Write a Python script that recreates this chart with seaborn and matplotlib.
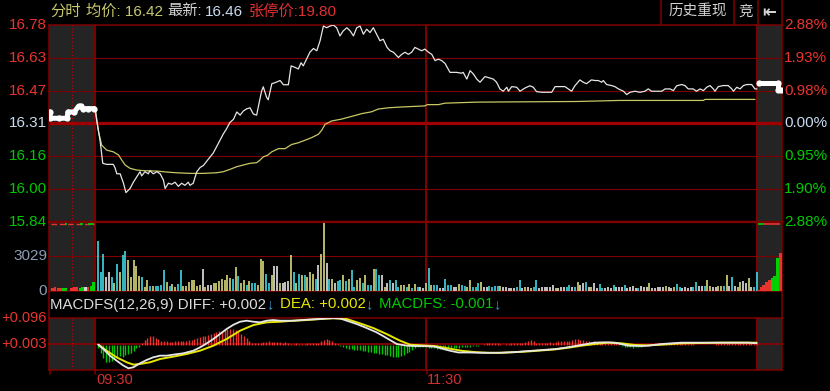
import matplotlib
matplotlib.use("Agg")
import matplotlib.pyplot as plt
import numpy as np
import pandas as pd
import seaborn as sns

# ---------------- data ----------------
price_labels = ["15.84", "16.00", "16.16", "16.31", "16.47", "16.63", "16.78"]
pct_labels = ["2.88%", "1.90%", "0.95%", "0.00%", "0.98%", "1.93%", "2.88%"]
vol_labels = ["0", "3029"]
vol_label_vals = [0, 3029]
macd_labels = ["+0.003", "+0.096"]
macd_label_vals = [0.003, 0.096]
time_labels = ["09:30", "11:30"]
time_label_min = [0, 120]

# intraday price (minute index from 09:30, price)
price_t = [0, 0.6, 1.8, 2.8, 4.2, 6.6, 7.2, 7.9, 9.1, 10.3, 11.2, 12.7, 13.9, 15.1, 16.3, 16.9,
           18.1, 19.3, 19.9, 21.1, 22.4, 23.6, 24.8, 25.4, 26.6, 27.8, 29.0, 30.2, 31.4, 32.6,
           33.8, 34.4, 35.6, 36.9, 38.1, 39.3, 40.5, 41.7, 42.9, 44.1, 45.3, 46.5, 47.7, 48.9,
           50.2, 51.4, 52.6, 53.8, 55.0, 56.2, 57.4, 58.6, 59.2, 60.4, 61.0, 62.2, 62.8, 64.1,
           65.3, 67.1, 68.3, 70.1, 71.1, 72.5, 73.7, 74.7, 75.5, 76.7, 77.9, 79.2, 80.4, 81.6,
           82.8, 84.0, 85.2, 86.4, 87.6, 88.8, 90.0, 91.3, 92.5, 93.7, 94.9, 96.1, 97.3, 98.5,
           99.7, 100.9, 102.1, 103.3, 104.5, 105.9, 107.0, 108.2, 109.4, 110.0, 111.2, 112.4,
           113.6, 114.8, 116.0, 117.2, 118.4, 119.6, 120.9, 122.1, 123.3, 124.5, 125.7, 126.9,
           128.7, 131.1, 132.9, 133.5, 134.8, 136.0, 137.2, 138.4, 139.6, 141.4, 143.2, 144.4,
           145.6, 146.8, 148.0, 149.3, 149.9, 151.1, 152.9, 154.1, 156.0, 157.7, 158.9, 160.1,
           162.0, 163.8, 165.6, 166.8, 168.6, 170.4, 171.6, 172.8, 174.0, 175.8, 177.0, 178.2,
           180.0, 181.3, 182.5, 183.7, 184.3, 185.5, 187.3, 188.5, 189.8, 191.6, 192.8, 194.0,
           195.8, 197.6, 199.4, 200.6, 201.8, 203.7, 205.5, 206.7, 208.5, 209.7, 210.9, 212.7,
           213.9, 215.1, 216.9, 218.1, 219.4, 220.6, 221.8, 223.0, 224.2, 224.8, 226.0, 227.8,
           229.6, 230.9, 231.5, 232.7, 233.9, 235.1, 236.3, 238.1, 239.3, 240.0]
price_v = [16.385, 16.325, 16.23, 16.12, 16.115, 16.115, 16.10, 16.07, 16.07, 16.025, 15.98, 16.00,
           16.03, 16.055, 16.08, 16.06, 16.08, 16.07, 16.085, 16.07, 16.08, 16.07, 16.04, 16.00,
           16.025, 16.02, 16.03, 16.01, 16.025, 16.015, 16.03, 16.015, 16.025, 16.08, 16.10, 16.11,
           16.13, 16.15, 16.17, 16.20, 16.23, 16.26, 16.285, 16.315, 16.33, 16.365, 16.35, 16.37,
           16.38, 16.385, 16.355, 16.35, 16.39, 16.465, 16.485, 16.435, 16.423, 16.50, 16.505,
           16.515, 16.495, 16.495, 16.585, 16.578, 16.57, 16.60, 16.585, 16.617, 16.65, 16.668,
           16.657, 16.705, 16.775, 16.767, 16.775, 16.78, 16.767, 16.728, 16.752, 16.767, 16.752,
           16.728, 16.767, 16.775, 16.736, 16.76, 16.744, 16.767, 16.736, 16.705, 16.712, 16.673,
           16.657, 16.65, 16.633, 16.625, 16.64, 16.65, 16.64, 16.65, 16.673, 16.665, 16.657,
           16.665, 16.65, 16.64, 16.61, 16.617, 16.61, 16.597, 16.554, 16.554, 16.55, 16.554,
           16.522, 16.562, 16.546, 16.522, 16.507, 16.534, 16.527, 16.522, 16.507, 16.475, 16.464,
           16.483, 16.464, 16.486, 16.483, 16.464, 16.48, 16.49, 16.483, 16.462, 16.459, 16.459,
           16.459, 16.486, 16.486, 16.486, 16.475, 16.464, 16.49, 16.518, 16.507, 16.50, 16.518,
           16.515, 16.515, 16.507, 16.515, 16.496, 16.491, 16.486, 16.475, 16.464, 16.448, 16.459,
           16.464, 16.459, 16.464, 16.475, 16.464, 16.464, 16.464, 16.475, 16.475, 16.467, 16.49,
           16.496, 16.491, 16.475, 16.475, 16.464, 16.475, 16.467, 16.483, 16.491, 16.475, 16.464,
           16.486, 16.491, 16.491, 16.475, 16.464, 16.483, 16.475, 16.491, 16.496, 16.496, 16.475,
           16.475]

# average price line
avg_t = [0, 1.2, 2.4, 4.2, 6.6, 8.5, 9.7, 10.9, 12.7, 15.1, 17.5, 22.4, 27.2, 29.6, 34.4, 39.3,
         44.1, 46.5, 48.9, 51.4, 53.8, 56.2, 58.6, 59.8, 61.0, 62.5, 64.1, 66.5, 68.9, 71.3, 73.7,
         76.1, 78.6, 81.0, 82.2, 83.4, 85.8, 89.4, 93.1, 96.7, 100.3, 102.7, 106.4, 110.0, 114.8,
         119.6, 120.5, 124.5, 126.9, 138.4, 174.6, 190.3, 220.6, 221.2, 239.3]
avg_v = [16.385, 16.275, 16.207, 16.183, 16.175, 16.16, 16.135, 16.112, 16.096, 16.088, 16.085,
         16.083, 16.077, 16.075, 16.072, 16.072, 16.075, 16.08, 16.091, 16.104, 16.112, 16.12,
         16.123, 16.135, 16.151, 16.158, 16.175, 16.19, 16.19, 16.21, 16.218, 16.23, 16.243,
         16.259, 16.278, 16.306, 16.322, 16.331, 16.344, 16.357, 16.366, 16.379, 16.385, 16.388,
         16.391, 16.394, 16.40, 16.40, 16.407, 16.412, 16.415, 16.42, 16.42, 16.425, 16.425]

# call auction (before 09:30) and after-close segments
pre_t = [-16.3, -16.3, -13.0, -10.2, -9.8, -7.5, -6.0, -5.0, -4.4, -2.5, -0.3]
pre_p = [16.365, 16.335, 16.335, 16.335, 16.365, 16.365, 16.392, 16.392, 16.381, 16.381, 16.381]
post_t = [240.6, 247.6, 247.6, 248.8]
post_p = [16.505, 16.505, 16.47, 16.47]

# volume per minute (1..240) and colour codes c=cyan, y=olive, w=white
vol = [4340, 1680, 3250, 1190, 1680, 1240, 710, 2370, 1680, 3140,
       3520, 2720, 1190, 2720, 2220, 1330, 1190, 300, 900, 440,
       440, 380, 380, 500, 1830, 750, 440, 590, 300, 590,
       1830, 380, 440, 750, 900, 900, 380, 500, 1950, 300,
       470, 500, 650, 650, 860, 1030, 950, 1390, 1150, 1030,
       2070, 1300, 650, 950, 500, 860, 650, 710, 500, 2810,
       2630, 1480, 710, 1390, 2180, 2180, 710, 650, 740, 860,
       3160, 1630, 650, 1480, 1390, 1390, 1240, 1630, 1480, 1030,
       2280, 3250, 6000, 2430, 1030, 1030, 710, 860, 950, 1390,
       860, 1030, 1830, 350, 950, 1150, 710, 1390, 500, 500,
       1920, 1920, 1390, 1390, 350, 710, 950, 650, 950, 350,
       500, 500, 300, 590, 200, 590, 300, 300, 200, 650,
       2040, 500, 500, 500, 200, 200, 1060, 500, 500, 350,
       350, 590, 500, 400, 350, 940, 350, 350, 650, 800,
       350, 300, 450, 350, 450, 450, 450, 300, 300, 200,
       200, 200, 350, 940, 200, 350, 350, 270, 350, 940,
       270, 350, 350, 350, 300, 500, 200, 200, 300, 350,
       350, 500, 350, 350, 800, 500, 700, 800, 350, 350,
       700, 200, 560, 270, 200, 350, 200, 500, 350, 350,
       350, 500, 200, 350, 420, 200, 270, 440, 350, 350,
       650, 200, 270, 300, 350, 350, 440, 350, 200, 350,
       560, 350, 200, 350, 270, 350, 350, 800, 440, 440,
       440, 940, 440, 350, 350, 440, 440, 440, 1390, 440,
       1180, 440, 350, 740, 860, 700, 1090, 300, 300, 1620]
vol_dir = ("cccwwcycyc" "cyyyyycyyc" "yccccycyyc" "cyyyyyyywy" "wwyyyyyyyc"
           "ycyycyccyy" "yccywwywww" "ycycycyyyc" "wyywcywccy" "cyccyycycc"
           "yccwywcwcc" "yycycycwwy" "cyccwwcccw" "wyccyycccy" "wwccccywww"
           "wwccwywycc" "wwwwwwywww" "ccwcywwcwy" "wwccwwwcww" "wcwwwwcwww"
           "ywwwwwywwy" "ccwwwwccww" "cyywwyycyw" "cwyywwywcc")

pre_vol_t = [-15.5, -14.5, -13.5, -12.5, -11.5, -10.5, -8.5, -7.5, -6.5, -5.5, -4.5, -3.5, -2.5, -1.5, -0.5]
pre_vol = [270, 300, 270, 250, 200, 250, 250, 300, 300, 270, 300, 300, 350, 450, 750]
pre_vol_dir = "rrrrggrrrggwrgg"
post_vol_t = [240.5, 241.5, 242.5, 243.5, 244.5, 245.5, 246.5, 247.5, 248.5]
post_vol = [100, 300, 500, 750, 900, 1150, 1300, 2900, 3300]
post_vol_dir = "rrrrrgggr"

# MACD lines
diff_t = [1.2, 3.0, 5.4, 7.8, 10.3, 12.1, 13.9, 16.3, 18.7, 21.1, 23.6, 26.0, 28.4, 32.0, 35.7,
          38.1, 40.5, 42.9, 45.3, 47.7, 50.2, 52.6, 55.0, 57.4, 59.8, 62.2, 64.6, 67.1, 71.9,
          76.7, 81.6, 84.0, 86.4, 88.8, 91.3, 94.9, 98.5, 102.1, 105.7, 109.4, 113.0, 116.0,
          119.6, 123.3, 126.9, 129.3, 131.7, 135.4, 140.2, 146.2, 152.3, 156.9, 161.9, 166.8,
          170.4, 174.0, 177.6, 181.3, 184.9, 188.5, 193.4, 198.2, 200.6, 205.5, 212.7, 220.0,
          227.3, 236.9, 239.9]
diff_v = [0.0006, -0.0149, -0.0387, -0.0565, -0.0744, -0.0839, -0.0803, -0.066, -0.0541, -0.0446,
          -0.0387, -0.0387, -0.0351, -0.0303, -0.0208, -0.0089, 0.0054, 0.0209, 0.0387, 0.0566,
          0.072, 0.0827, 0.0863, 0.0827, 0.0804, 0.0863, 0.0887, 0.0863, 0.0863, 0.0899, 0.0923,
          0.0945, 0.0955, 0.0945, 0.0863, 0.0744, 0.0601, 0.0447, 0.0244, 0.003, -0.003, -0.0043,
          -0.0043, -0.0067, -0.0164, -0.0224, -0.0273, -0.0273, -0.0285, -0.0285, -0.026, -0.0224,
          -0.0188, -0.0152, -0.0103, -0.0043, 0.0018, 0.0078, 0.009, 0.0078, -0.003, -0.0043,
          -0.003, 0.003, 0.0078, 0.0078, 0.0078, 0.0078, 0.0054]
dea_t = [1.2, 4.2, 7.8, 11.5, 13.9, 16.3, 19.9, 23.6, 28.4, 33.2, 38.1, 42.9, 47.7, 52.6, 57.4,
         62.2, 67.1, 71.9, 76.7, 81.6, 86.4, 91.3, 96.1, 100.9, 105.7, 110.6, 114.2, 116.0, 123.3,
         128.1, 132.9, 137.8, 142.6, 147.4, 152.3, 157.1, 161.9, 166.8, 171.6, 176.4, 181.3,
         186.1, 191.0, 195.8, 200.6, 205.5, 212.7, 220.0, 227.3, 236.9, 239.9]
dea_v = [0.0006, -0.0208, -0.0446, -0.0625, -0.0708, -0.0684, -0.0625, -0.0506, -0.0422, -0.0327,
         -0.0208, -0.003, 0.0209, 0.0506, 0.0708, 0.0804, 0.0827, 0.0863, 0.0887, 0.0923, 0.0950,
         0.0923, 0.0768, 0.0601, 0.0387, 0.0149, 0.0006, -0.0006, -0.0043, -0.0127, -0.0212,
         -0.026, -0.0285, -0.0285, -0.026, -0.0236, -0.02, -0.0164, -0.0103, -0.003, 0.003, 0.0078,
         0.0054, -0.0006, -0.0018, 0.0006, 0.0054, 0.0066, 0.0078, 0.0078, 0.0078]
# MACD histogram (x0.001) per minute 1..240
macd_hist = [-12, -30, -48, -60, -63, -57, -50, -45, -39, -45, -36, -33, -30, -21, -12, -6,
             8, 18, 26, 32, 30, 26, 20, 15, 12, 12, 11, 11, 12, 12, 13, 13, 14, 16, 18, 20, 24,
             27, 30, 33, 36, 40, 42, 45, 48, 50, 52, 55, 56, 55, 52, 47, 40, 32, 24, 15, 8,
             6, 5, 6, 9, 11, 12, 10, 9, 11, 10, 8, 9, 6, 4, 3, 5, 4, 3, 4, 5, 6, 5, 6, 8, 12,
             16, 20, 17, 13, 8, 3,
             -4, -8, -13, -15, -16, -17, -18, -20, -21, -23, -25, -26, -28, -30, -32, -34, -36,
             -38, -40, -42, -43, -42, -40, -36, -30, -24, -18, -12,
             -8, -7, -6, -8, -10, -12, -13, -14, -15, -15, -14, -13, -12, -12, -11, -10, -9, -8,
             -7, -6, -5, -4, -3, -2,
             4, 6, 7, 6, 5, 5, 2, 1, 2, 3, 6, 7, 6, 7, 8, 10, 15, 17, 14, 8,
             7, 6, 8, 7, 9, 8, 11, 13, 12, 13, 12, 14, 17, 20, 21, 19, 17, 14, 12, 11,
             13, 10, 9, 8, 7, 8, 7, 6, 5, 3,
             -3, -6, -8, -9, -10, -9, -8, -6, -4, -2,
             2, 4, 5, 6, 6, 7, 7, 8, 7, 7, 6, 7, 6, 5, 4, 3, 2,
             1, 0, 0, 1, 0, 1, 1,
             3, 5, 6, 6, 6, 6, 6, 6, 6, 6, 6, 6, 5, 5, 4, 3]

# ---------------- style ----------------
sns.set_theme(style="dark", rc={"axes.facecolor": "black", "figure.facecolor": "black",
                                "axes.edgecolor": "#800000", "text.color": "white"})
plt.rcParams['font.family'] = ['Liberation Sans', 'Noto Sans CJK SC', 'DejaVu Sans']

RED = '#e8342e'
GREEN = '#00c800'
NEUT = '#c8dcf0'
GRID = '#800000'
GRAY_BG = '#242424'
VCOL = {'c': '#3cc8d2', 'y': '#c8c873', 'w': '#d2d2d2', 'r': '#e8342e', 'g': '#00d200'}

W, H = 830, 391
fig = plt.figure(figsize=(W / 100, H / 100), dpi=100)
fig.patch.set_facecolor('black')


def px_axes(x0, y0, x1, y1):
    return fig.add_axes([x0 / W, 1 - y1 / H, (x1 - x0) / W, (y1 - y0) / H])


ax_p = px_axes(49, 25, 782, 222)
ax_v = px_axes(49, 222, 782, 290.7)
ax_m = px_axes(49, 318, 782, 370)
XL = (-16.7, 249.1)

for ax in (ax_p, ax_v, ax_m):
    ax.set_xlim(*XL)
    ax.set_facecolor('black')
    ax.axvspan(XL[0], 0, color=GRAY_BG, lw=0, zorder=0)
    ax.axvspan(240, XL[1], color=GRAY_BG, lw=0, zorder=0)
    ax.axvline(-8.3, color='#c00000', ls=(0, (1, 2)), lw=0.8, zorder=1)
    for xv in (0, 120, 240):
        ax.axvline(xv, color=GRID, lw=1.4, zorder=1)
    ax.set_xticks([])
    ax.set_yticks([])
    ax.grid(False)
    for s in ax.spines.values():
        s.set_color(GRID)
        s.set_linewidth(1.1)

# ---- price panel ----
lo, hi = 15.84, 16.78
ax_p.set_ylim(lo, hi)
levels = np.linspace(lo, hi, len(price_labels))
lab_cols = [GREEN, GREEN, GREEN, NEUT, RED, RED, RED]
for i, lv in enumerate(levels):
    if i == 3:
        ax_p.axhline(lv, color='#a00000', lw=2.3, zorder=1)
    elif 0 < i < 6:
        ax_p.axhline(lv, color=GRID, lw=0.8, zorder=1)
    ax_p.text(-2 / 733, lv, price_labels[i], transform=ax_p.get_yaxis_transform(),
              ha='right', va='center', color=lab_cols[i], fontsize=11)
    ax_p.text(1 + 2 / 733, lv, pct_labels[i], transform=ax_p.get_yaxis_transform(),
              ha='left', va='center', color=lab_cols[i], fontsize=11)
ax_p.spines['bottom'].set_linewidth(1.6)

dfp = pd.DataFrame({'t': price_t, 'p': price_v})
sns.lineplot(data=dfp, x='t', y='p', ax=ax_p, color='#e6e6e6', lw=0.9,
             estimator=None, sort=False, zorder=4)
dfa = pd.DataFrame({'t': avg_t, 'p': avg_v})
sns.lineplot(data=dfa, x='t', y='p', ax=ax_p, color='#c8c864', lw=0.9,
             estimator=None, sort=False, zorder=3)
sns.lineplot(x=pre_t, y=pre_p, ax=ax_p, color='white', lw=3.6, estimator=None, sort=False,
             marker='o', markersize=4.5, markeredgewidth=0, zorder=5, solid_capstyle='round')
sns.lineplot(x=post_t, y=post_p, ax=ax_p, color='white', lw=3.6, estimator=None, sort=False,
             marker='o', markersize=4.5, markeredgewidth=0, zorder=5, solid_capstyle='round')
ax_p.set_xlabel('')
ax_p.set_ylabel('')
ax_p.set_xlim(*XL)
ax_p.set_ylim(lo, hi)

# ---- volume panel ----
vmax = 6058
ax_v.set_ylim(0, vmax)
ax_v.axhline(3029, color=GRID, lw=0.8, zorder=1)
vt = np.arange(1, len(vol) + 1)
ax_v.vlines(vt, 0, vol, colors=[VCOL[c] for c in vol_dir], lw=1.3, zorder=3)
ax_v.bar(pre_vol_t, pre_vol, width=0.9, color=[VCOL[c] for c in pre_vol_dir], lw=0, zorder=3)
ax_v.bar(post_vol_t, post_vol, width=1.0, color=[VCOL[c] for c in post_vol_dir], lw=0, zorder=3)
top_line = vmax * 0.975
ax_v.hlines([top_line], [XL[0] + 0.6], [-0.3], colors='#e8342e', lw=1.0, ls=(0, (4, 2)), zorder=3)
ax_v.hlines([top_line] * 3, [-11.0, -5.4, -2.5], [-10.2, -4.4, -0.3], colors=VCOL['g'], lw=1.2, zorder=4)
ax_v.hlines([top_line], [240.5], [242.6], colors=VCOL['g'], lw=1.2, zorder=4)
ax_v.hlines([top_line], [242.6], [248.5], colors='#e8342e', lw=1.2, zorder=4)
for v, s in zip(vol_label_vals, vol_labels):
    ax_v.text(-2 / 733, v, s, transform=ax_v.get_yaxis_transform(), ha='right', va='center',
              color='#8c9cb4', fontsize=11)
ax_v.spines['top'].set_linewidth(1.6)

# ---- MACD panel ----
ax_m.set_ylim(-0.090, 0.096)
ax_m.axhline(0.003, color='#900000', lw=1.2, zorder=1)
ht = np.arange(1, len(macd_hist) + 1)
hv = np.array(macd_hist) / 1000.0
ax_m.vlines(ht, 0, hv, colors=[RED if v > 0 else GREEN for v in hv], lw=1.0, zorder=2)
sns.lineplot(x=dea_t, y=dea_v, ax=ax_m, color='#e6e600', lw=1.4, estimator=None, sort=False, zorder=4)
sns.lineplot(x=diff_t, y=diff_v, ax=ax_m, color='#e6e6e6', lw=1.3, estimator=None, sort=False, zorder=5)
ax_m.set_xlabel('')
ax_m.set_ylabel('')
ax_m.set_xlim(*XL)
ax_m.set_ylim(-0.090, 0.096)
for v, s in zip(macd_label_vals, macd_labels):
    ax_m.text(-2 / 733, v, s, transform=ax_m.get_yaxis_transform(), ha='right', va='center',
              color=RED, fontsize=10.5)

# ---- overlay for header / labels row ----
ov = fig.add_axes([0, 0, 1, 1])
ov.set_xlim(0, W)
ov.set_ylim(H, 0)
ov.set_axis_off()
ov.patch.set_alpha(0)
ov.set_zorder(10)

for x in (661, 734, 757.5, 781.5):
    ov.plot([x, x], [0, 25], color=GRID, lw=1.1)
for x in (49, 781.5):
    ov.plot([x, x], [290.7, 318], color=GRID, lw=1.1)
for x in (49.5, 95, 427):
    ov.plot([x, x], [370, 373.5], color=GRID, lw=1.1)

# time labels: left edge at the session boundary position on the MACD axis
for m, s in zip(time_label_min, time_labels):
    ov.annotate(s, xy=(m + 0.4, 0), xycoords=ax_m.get_xaxis_transform(), xytext=(0, -10.5 * 0.72),
                textcoords='offset points', ha='left', va='center', color='#d23030',
                fontsize=10.5)


def chain(x, y, parts, size):
    t = ov.text(x, y, parts[0][0], color=parts[0][1], fontsize=size, ha='left', va='center')
    for s, c, gap in parts[1:]:
        t = ov.annotate(s, xy=(1, 0.5), xycoords=t, xytext=(gap * 0.72, 0),
                        textcoords='offset points', color=c, fontsize=size,
                        ha='left', va='center')
    return t


chain(50, 11.5, [("分时", '#c8c86e'), ("均价: 16.42", '#c8c86e', 5), ("最新:", '#d2d2d2', 5),
                 ("16.46", '#c8dcf0', 3), ("张停价:19.80", '#e03030', 5)], 11)
chain(50, 304.5, [("MACDFS(12,26,9) DIFF: +0.002", '#dcdcdc'), ("↓", '#3c96d2', 0),
                  ("DEA: +0.002", '#e6e600', 6), ("↓", '#3c96d2', 0),
                  ("MACDFS: -0.001", '#00c800', 6), ("↓", '#3c96d2', 0)], 10.8)

ov.text(698, 12, "历史重现", color='#d2d2d2', fontsize=10.5, ha='center', va='center')
ov.text(745.5, 12, "竞", color='#d2d2d2', fontsize=10.5, ha='center', va='center')
ov.text(769.5, 12, "⇤", color='#d2d2d2', fontsize=12, ha='center', va='center',
        family=['DejaVu Sans'], fontweight='bold')

fig.savefig("out.png", dpi=100, facecolor='black')
